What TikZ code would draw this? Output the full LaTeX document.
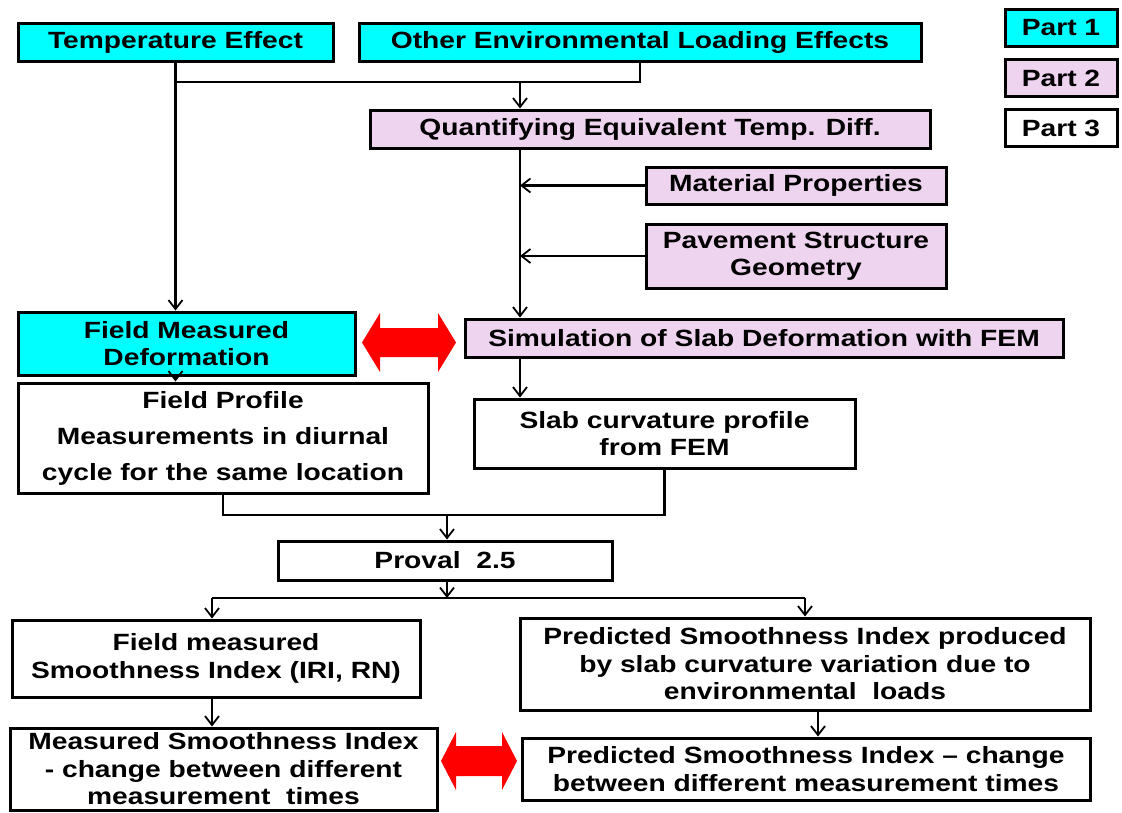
\documentclass[tikz,border=0pt]{standalone}
\usepackage{fontspec}
\setmainfont{Liberation Sans}[FakeStretch=1.2]
\usetikzlibrary{arrows.meta}
\definecolor{cyanbox}{RGB}{0,255,255}
\definecolor{pinkbox}{RGB}{238,212,238}
\begin{document}
\begin{tikzpicture}[x=1pt,y=-1pt,
  box/.style={draw=black,line width=3pt,rectangle,inner sep=0pt,align=center,font=\bfseries\fontsize{23.5}{27.5}\selectfont},
  c1/.style={box,fill=cyanbox},
  c2/.style={box,fill=pinkbox},
  c3/.style={box,fill=white},
  conn/.style={line width=2.3pt},
  arr/.style={conn,-{Straight Barb[length=9pt,width=14pt,line width=1.8pt]}},
  bigarrow/.style={fill=red}]
\useasboundingbox (0,0) rectangle (1122,812);
\node[c1,minimum width=315pt,minimum height=38pt] (temp) at (175.5,42) {Temperature Effect};
\node[c1,minimum width=562pt,minimum height=38pt] (other) at (640,42) {Other Environmental Loading Effects};
\node[c1,minimum width=112pt,minimum height=37pt] (p1) at (1061,28) {Part 1};
\node[c2,minimum width=112pt,minimum height=37pt] (p2) at (1061,78) {Part 2};
\node[c3,minimum width=112pt,minimum height=37pt] (p3) at (1061,128) {Part 3};
\node[c2,minimum width=560pt,minimum height=38pt] (quant) at (650,129) {Quantifying Equivalent Temp. Diff.};
\node[c2,minimum width=300pt,minimum height=37pt] (mat) at (796,185.5) {Material Properties};
\node[c2,minimum width=300pt,minimum height=64pt] (pave) at (796,256) {Pavement Structure\\Geometry};
\node[c1,minimum width=337pt,minimum height=63pt] (fmd) at (186.5,343.5) {Field Measured\\Deformation};
\node[c2,minimum width=598pt,minimum height=38pt] (sim) at (764,338) {Simulation of Slab Deformation with FEM};
\node[c3,minimum width=410pt,minimum height=110pt,font=\bfseries\fontsize{23.5}{36}\selectfont] (fpm) at (223,438) {Field Profile\\Measurements in diurnal\\cycle for the same location};
\node[c3,minimum width=381pt,minimum height=69pt] (scp) at (664.5,433.5) {Slab curvature profile\\from FEM};
\node[c3,minimum width=334pt,minimum height=39pt] (proval) at (445,560.5) {Proval\ \ 2.5};
\node[c3,minimum width=408pt,minimum height=77pt] (fmsi) at (216,658.5) {Field measured\\Smoothness Index (IRI, RN)};
\node[c3,minimum width=570pt,minimum height=92pt] (psi) at (805,664) {Predicted Smoothness Index produced\\by slab curvature variation due to\\environmental\ \ loads};
\node[c3,minimum width=427pt,minimum height=82pt] (msic) at (223.5,769) {Measured Smoothness Index\\- change between different\\measurement\ \ times};
\node[c3,minimum width=568pt,minimum height=62pt] (psic) at (806,769) {Predicted Smoothness Index – change\\between different measurement times};
% connectors
\coordinate (j1) at (520,82);
\draw[conn] (temp.south |- j1) -- (other.south |- j1) -- (other.south);
\draw[arr] (temp.south) -- (temp.south |- fmd.north);
\draw[arr] (j1) -- (j1 |- quant.north);
\draw[arr] (j1 |- quant.south) -- (j1 |- sim.north);
\draw[arr] (mat.west) -- (mat.west -| j1);
\draw[arr] (pave.west) -- (pave.west -| j1);
\draw[arr] (temp.south |- fmd.south) -- (temp.south |- fpm.north);
\draw[arr] (j1 |- sim.south) -- (j1 |- scp.north);
\coordinate (j2) at (447,515);
\draw[conn] (fpm.south) -- (fpm.south |- j2) -- (scp.south |- j2) -- (scp.south);
\draw[arr] (j2) -- (j2 |- proval.north);
\coordinate (j3) at (447,598);
\coordinate (l3) at (212,598);
\coordinate (r3) at (805,598);
\draw[arr] (j3 |- proval.south) -- (j3);
\draw[conn] (l3) -- (r3);
\draw[arr] (l3) -- (l3 |- fmsi.north);
\draw[arr] (r3) -- (r3 |- psi.north);
\draw[arr] (l3 |- fmsi.south) -- (l3 |- msic.north);
\coordinate (r4) at (818,724);
\draw[arr] (r4 |- psi.south) -- (r4 |- psic.north);
% red double arrows
\fill[bigarrow] (362,342.5) -- (380,313) -- (380,328) -- (438,328) -- (438,313) -- (456,342.5) -- (438,372) -- (438,357) -- (380,357) -- (380,372) -- cycle;
\fill[bigarrow] (441,761) -- (456,732) -- (456,746) -- (502,746) -- (502,732) -- (517,761) -- (502,790) -- (502,776) -- (456,776) -- (456,790) -- cycle;
\end{tikzpicture}
\end{document}
